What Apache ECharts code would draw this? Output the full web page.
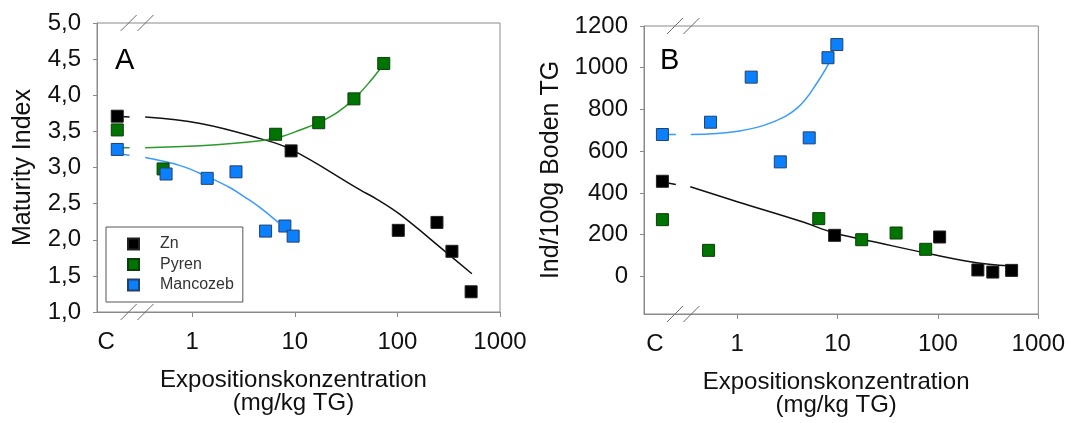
<!DOCTYPE html>
<html>
<head>
<meta charset="utf-8">
<script src="https://cdn.jsdelivr.net/npm/echarts@6/dist/echarts.min.js"></script>
<style>
html,body{margin:0;padding:0;background:#fff;}
#c{width:1068px;height:423px;}
</style>
</head>
<body>
<div id="c"></div>
<script>
// ---------- Data ----------
// Panel A: Maturity Index
const aZnX = [0.186, 9.2, 102, 243, 340, 523];
const aZnY = [3.71, 3.23, 2.13, 2.24, 1.84, 1.28];
const aPyX = [0.186, 0.52, 6.5, 17.1, 37.7, 73.6];
const aPyY = [3.52, 2.98, 3.46, 3.62, 3.95, 4.44];
const aMaX = [0.186, 0.556, 1.40, 2.67, 5.19, 8.0, 9.63];
const aMaY = [3.25, 2.91, 2.85, 2.94, 2.12, 2.19, 2.05];
// Panel A fitted curves (null = gap at the axis break)
const aZnFitX = [0.186, 0.245, null, 0.348, 1.2, 4.59, 9.2, 43.3, 63.3, 106, 291, 532];
const aZnFitY = [3.71, 3.70, null, 3.70, 3.61, 3.40, 3.25, 2.69, 2.56, 2.35, 1.84, 1.53];
const aPyFitX = [0.186, 0.245, null, 0.348, 1.2, 4.59, 7.5, 11.3, 17.25, 25.8, 37.8, 54.1, 74.1];
const aPyFitY = [3.275, 3.275, null, 3.275, 3.30, 3.37, 3.43, 3.52, 3.625, 3.76, 3.95, 4.19, 4.44];
const aMaFitX = [0.186, 0.245, null, 0.348, 0.764, 1.40, 2.34, 3.43, 4.59, 6.88];
const aMaFitY = [3.19, 3.17, null, 3.137, 3.026, 2.874, 2.72, 2.57, 2.445, 2.24];

// Panel B: Ind/100g Boden TG
const bZnX = [0.18, 9.35, 104, 250, 352, 542];
const bZnY = [456, 197, 189, 31, 21, 29];
const bPyX = [0.18, 0.519, 6.5, 17.4, 38.3, 75.5];
const bPyY = [272, 125, 277, 176, 208, 130];
const bMaX = [0.18, 0.543, 1.38, 2.69, 5.22, 8.03, 9.84];
const bMaY = [680, 739, 955, 549, 664, 1048, 1111];
const bZnFitX = [0.18, 0.245, null, 0.341, 1.02, 4.46, 9.34, 26.2, 81.6, 253, 494];
const bZnFitY = [452, 440, null, 430, 357, 262, 208, 160, 109, 64, 51];
const bMaFitX = [0.18, 0.245, null, 0.345, 1.02, 2.16, 3.98, 6.26, 9.14];
const bMaFitY = [680, 680, null, 680, 696, 736, 808, 928, 1064];

// Axis tick labels
const xTickValues = [1, 10, 100, 1000];
const aCLabelPos = 0.145;
const bCLabelPos = 0.152;
const bYTicks = [0, 200, 400, 600, 800, 1000, 1200];
const seriesNames = ['Zn', 'Pyren', 'Mancozeb'];
const breakPos = [0.24, 0.35];

// ---------- Styling ----------
const FONT = "'Liberation Sans', Arial, sans-serif";
const cBlack = '#000000', cGreen = '#007400', cBlue = '#0a80ff';
const bBlack = '#222222', bGreen = '#0c3d0c', bBlue = '#23406a';
const lBlack = '#111111', lGreen = '#2a9a2a', lBlue = '#3a9bff';
const axisGray = '#8a8a8a';

function pairs(xs, ys) {
  return xs.map((x, i) => (x === null ? ['-', '-'] : [x, ys[i]]));
}

function xAxisDef(gridIndex, cPos) {
  return {
    type: 'log', logBase: 10, gridIndex: gridIndex,
    min: 0.118, max: 1000,
    name: 'Expositionskonzentration\n(mg/kg TG)',
    nameLocation: 'middle', nameGap: 57,
    nameTextStyle: { fontFamily: FONT, fontSize: 24, lineHeight: 23, color: '#111', padding: [0, 10, 0, 0] },
    axisLine: { show: true, onZero: false, lineStyle: { color: axisGray, width: 1 } },
    axisTick: { show: true, length: 5, customValues: xTickValues, lineStyle: { color: axisGray } },
    axisLabel: {
      customValues: [cPos].concat(xTickValues),
      margin: 18, fontFamily: FONT, fontSize: 24, color: '#111',
      formatter: function (v) { return v < 0.5 ? 'C' : String(Math.round(v)); }
    },
    splitLine: { show: false }, minorTick: { show: false }, minorSplitLine: { show: false }
  };
}

const option = {
  animation: false,
  backgroundColor: '#fff',
  textStyle: { fontFamily: FONT },
  title: [
    { text: 'A', left: 115, top: 46, padding: 0, textStyle: { fontFamily: FONT, fontSize: 29, fontWeight: 'normal', color: '#000' } },
    { text: 'B', left: 660, top: 46, padding: 0, textStyle: { fontFamily: FONT, fontSize: 29, fontWeight: 'normal', color: '#000' } }
  ],
  grid: [
    { left: 97, top: 23, width: 403, height: 289, show: true, borderColor: axisGray, borderWidth: 1, backgroundColor: 'transparent' },
    { left: 644, top: 26, width: 400, height: 288, show: true, borderColor: axisGray, borderWidth: 1, backgroundColor: 'transparent' }
  ],
  legend: {
    data: seriesNames,
    orient: 'vertical', left: 106, top: 227,
    itemWidth: 11, itemHeight: 11, itemGap: 4.5,
    padding: [9, 9, 9, 21],
    backgroundColor: '#fff', borderColor: '#555', borderWidth: 1, borderRadius: 0,
    icon: 'rect',
    textStyle: { fontFamily: FONT, fontSize: 16, color: '#333', lineHeight: 16, padding: [0, 0, 0, 16] },
    selectedMode: false, z: 10
  },
  xAxis: [xAxisDef(0, aCLabelPos), xAxisDef(1, bCLabelPos)],
  yAxis: [
    {
      type: 'value', gridIndex: 0, min: 1, max: 5, interval: 0.5,
      name: 'Maturity Index', nameLocation: 'middle', nameGap: 61,
      nameTextStyle: { fontFamily: FONT, fontSize: 25, color: '#111' },
      axisLine: { show: true, onZero: false, lineStyle: { color: axisGray } },
      axisTick: { show: true, length: 4, lineStyle: { color: axisGray } },
      axisLabel: { margin: 16, fontFamily: FONT, fontSize: 24, color: '#111', formatter: v => v.toFixed(1).replace('.', ',') },
      splitLine: { show: false }
    },
    {
      type: 'value', gridIndex: 1, min: -180, max: 1200,
      name: 'Ind/100g Boden TG', nameLocation: 'middle', nameGap: 80,
      nameTextStyle: { fontFamily: FONT, fontSize: 25, color: '#111' },
      axisLine: { show: true, onZero: false, lineStyle: { color: axisGray } },
      axisTick: { show: true, length: 4, customValues: bYTicks, lineStyle: { color: axisGray } },
      axisLabel: { customValues: bYTicks, margin: 16, fontFamily: FONT, fontSize: 24, color: '#111', formatter: v => String(Math.round(v)) },
      splitLine: { show: false }
    }
  ],
  series: [
    // fitted lines, panel A
    { name: 'Zn fit A', type: 'line', xAxisIndex: 0, yAxisIndex: 0, data: pairs(aZnFitX, aZnFitY), smooth: 0.4, showSymbol: false, symbol: 'none', lineStyle: { color: lBlack, width: 1.5 }, z: 2, silent: true },
    { name: 'Pyren fit A', type: 'line', xAxisIndex: 0, yAxisIndex: 0, data: pairs(aPyFitX, aPyFitY), smooth: 0.4, showSymbol: false, symbol: 'none', lineStyle: { color: lGreen, width: 1.5 }, z: 2, silent: true },
    { name: 'Mancozeb fit A', type: 'line', xAxisIndex: 0, yAxisIndex: 0, data: pairs(aMaFitX, aMaFitY), smooth: 0.4, showSymbol: false, symbol: 'none', lineStyle: { color: lBlue, width: 1.5 }, z: 2, silent: true },
    // fitted lines, panel B
    { name: 'Zn fit B', type: 'line', xAxisIndex: 1, yAxisIndex: 1, data: pairs(bZnFitX, bZnFitY), smooth: 0.4, showSymbol: false, symbol: 'none', lineStyle: { color: lBlack, width: 1.5 }, z: 2, silent: true },
    { name: 'Mancozeb fit B', type: 'line', xAxisIndex: 1, yAxisIndex: 1, data: pairs(bMaFitX, bMaFitY), smooth: 0.4, showSymbol: false, symbol: 'none', lineStyle: { color: lBlue, width: 1.5 }, z: 2, silent: true },
    // scatter, panel A
    { name: 'Zn', type: 'scatter', xAxisIndex: 0, yAxisIndex: 0, data: pairs(aZnX, aZnY), symbol: 'rect', symbolSize: 12, itemStyle: { color: cBlack, borderColor: bBlack, borderWidth: 1, opacity: 1 }, z: 3 },
    { name: 'Pyren', type: 'scatter', xAxisIndex: 0, yAxisIndex: 0, data: pairs(aPyX, aPyY), symbol: 'rect', symbolSize: 12, itemStyle: { color: cGreen, borderColor: bGreen, borderWidth: 1, opacity: 1 }, z: 3 },
    { name: 'Mancozeb', type: 'scatter', xAxisIndex: 0, yAxisIndex: 0, data: pairs(aMaX, aMaY), symbol: 'rect', symbolSize: 12, itemStyle: { color: cBlue, borderColor: bBlue, borderWidth: 1, opacity: 1 }, z: 3 },
    // scatter, panel B
    { name: 'Zn', type: 'scatter', xAxisIndex: 1, yAxisIndex: 1, data: pairs(bZnX, bZnY), symbol: 'rect', symbolSize: 12, itemStyle: { color: cBlack, borderColor: bBlack, borderWidth: 1, opacity: 1 }, z: 3 },
    { name: 'Pyren', type: 'scatter', xAxisIndex: 1, yAxisIndex: 1, data: pairs(bPyX, bPyY), symbol: 'rect', symbolSize: 12, itemStyle: { color: cGreen, borderColor: bGreen, borderWidth: 1, opacity: 1 }, z: 3 },
    { name: 'Mancozeb', type: 'scatter', xAxisIndex: 1, yAxisIndex: 1, data: pairs(bMaX, bMaY), symbol: 'rect', symbolSize: 12, itemStyle: { color: cBlue, borderColor: bBlue, borderWidth: 1, opacity: 1 }, z: 3 }
  ]
};

const chart = echarts.init(document.getElementById('c'), null, { renderer: 'canvas' });
chart.setOption(option);

// Axis-break marks "//" on top and bottom frame lines of both panels
const yExt = [[1, 5], [-180, 1200]];
const breakGraphics = [];
[0, 1].forEach(function (g) {
  breakPos.forEach(function (bx) {
    yExt[g].forEach(function (yv) {
      const p = chart.convertToPixel({ gridIndex: g }, [bx, yv]);
      breakGraphics.push({
        type: 'line', silent: true, z: 20,
        shape: { x1: p[0] - 8, y1: p[1] + 8, x2: p[0] + 8, y2: p[1] - 8 },
        style: { stroke: '#6a6a6a', lineWidth: 1 }
      });
    });
  });
});
chart.setOption({ graphic: breakGraphics });
</script>
</body>
</html>
